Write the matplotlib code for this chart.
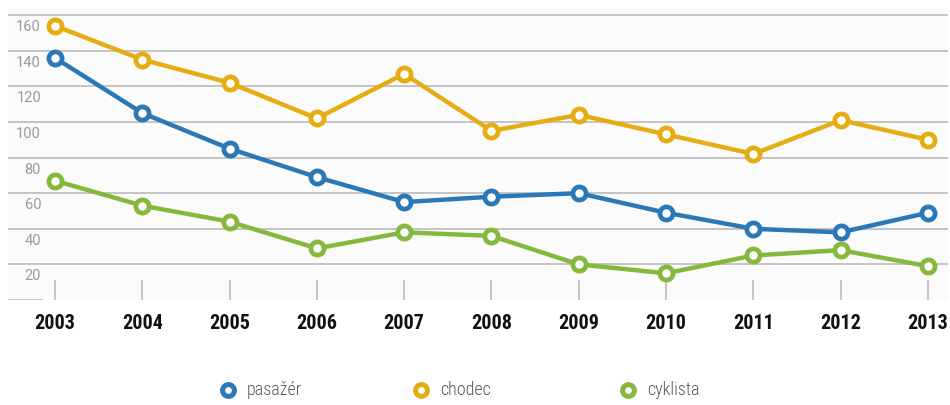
import matplotlib.pyplot as plt
from matplotlib.transforms import blended_transform_factory

years = [2003, 2004, 2005, 2006, 2007, 2008, 2009, 2010, 2011, 2012, 2013]
pasazer = [136, 105, 85, 69, 55, 58, 60, 49, 40, 38, 49]
chodec = [154, 135, 122, 102, 127, 95, 104, 93, 82, 101, 90]
cyklista = [67, 53, 44, 29, 38, 36, 20, 15, 25, 28, 19]
y_ticks = [20, 40, 60, 80, 100, 120, 140, 160]

series = [
    ("pasažér", pasazer, "#2b78b7"),
    ("chodec", chodec, "#e6ad12"),
    ("cyklista", cyklista, "#84b93d"),
]

narrow = ["DejaVu Sans Condensed", "Liberation Sans Narrow", "Roboto Condensed", "Roboto", "DejaVu Sans"]

fig = plt.figure(figsize=(9.5, 4.05), dpi=100)
fig.patch.set_facecolor("white")
ax = fig.add_axes([8 / 950, 105 / 405, 940 / 950, 292 / 405])
ax.set_facecolor("#fbfbfb")
ax.set_xlim(2002.462, 2013.229)
ax.set_ylim(0, 164)
for s in ax.spines.values():
    s.set_visible(False)
ax.set_xticks([])
ax.set_yticks([])

# horizontal grid
for v in y_ticks:
    ax.axhline(v, color="#c4c4c4", lw=1.4, zorder=1)
ax.axhline(0, xmin=0, xmax=34 / 940, color="#c4c4c4", lw=1.4, zorder=1)

# y labels sit just under their gridline
ylab = blended_transform_factory(ax.transAxes, ax.transData)
for v in y_ticks:
    ax.text(33 / 940, v - 6.8, str(v), transform=ylab, ha="right", va="center",
            fontsize=10.5, color="#9a9a9a", family=["Roboto", "DejaVu Sans"])

# small vertical ticks for years
ax.vlines(years, 0, 11, color="#bdbdbd", lw=1.2, zorder=1)

xlab = blended_transform_factory(ax.transData, ax.transAxes)
for y in years:
    ax.text(y, -0.082, str(y), transform=xlab, ha="center", va="center",
            fontsize=14.5, fontweight="bold", color="#111111", family=narrow)

for name, vals, col in series:
    ax.plot(years, vals, color=col, lw=3.2, marker="o", markersize=9.5,
            markerfacecolor="white", markeredgecolor=col, markeredgewidth=3.4,
            zorder=3, clip_on=False)

# legend row
ly = 1 - 390 / 405
for (name, vals, col), mx in zip(series, [228, 421, 628]):
    fig.lines.append(plt.Line2D([mx / 950], [ly], transform=fig.transFigure,
                                marker="o", markersize=8.5, markerfacecolor="white",
                                markeredgecolor=col, markeredgewidth=3.6))
    fig.text((mx + 19) / 950, ly, name, ha="left", va="center",
             fontsize=13, fontweight="light", color="#5a5a5a", family=narrow)

plt.savefig("out.png", dpi=100)
